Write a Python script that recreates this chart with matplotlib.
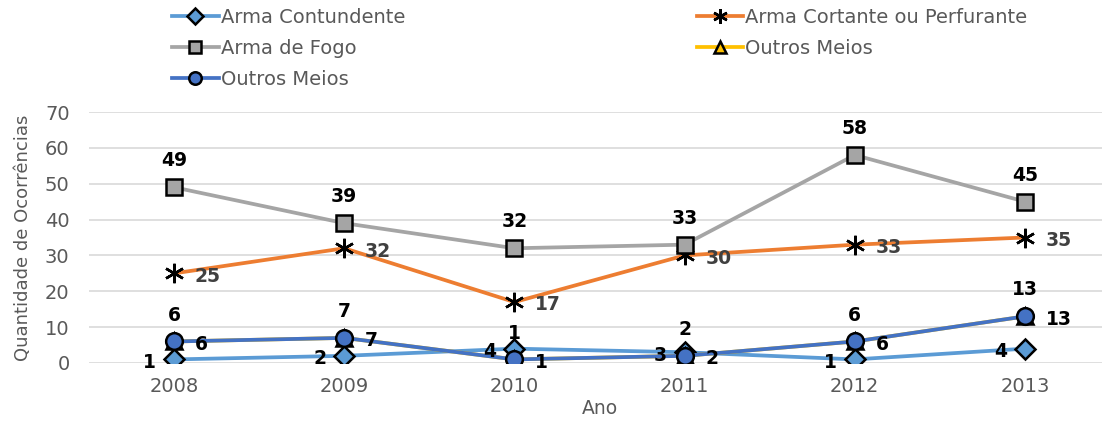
import matplotlib.pyplot as plt
from matplotlib.lines import Line2D

plt.rcParams['font.family'] = ['DejaVu Sans']

# =Data
anos = ['2008', '2009', '2010', '2011', '2012', '2013']
contundente = [1, 2, 4, 3, 1, 4]
cortante = [25, 32, 17, 30, 33, 35]
fogo = [49, 39, 32, 33, 58, 45]
outros_amarelo = [6, 7, 1, 2, 6, 13]
outros_azul = [6, 7, 1, 2, 6, 13]

x = list(range(len(anos)))

fig = plt.figure(figsize=(11.02, 4.25), dpi=100)
ax = fig.add_axes([89 / 1102, 62 / 425, 1021 / 1102, 251 / 425])

# series: (values, label, color, marker, marker size, label position, label color)
series = [
    (contundente, 'Arma Contundente', '#5B9BD5', 'D', 10.5, 'left', 'black'),
    (cortante, 'Arma Cortante ou Perfurante', '#ED7D31', (6, 2, 0), 14, 'right', '#404040'),
    (fogo, 'Arma de Fogo', '#A5A5A5', 's', 12, 'above', 'black'),
    (outros_amarelo, 'Outros Meios', '#FFC000', '^', 12, 'above', 'black'),
    (outros_azul, 'Outros Meios', '#4472C4', 'o', 12, 'right', 'black'),
]

handles = []
for vals, lab, col, mk, ms, pos, tcol in series:
    face = 'black' if mk == (6, 2, 0) else col
    ax.plot(x, vals, color=col, lw=2.7, marker=mk, ms=ms,
            mfc=face, mec='black', mew=1.8, solid_capstyle='round')
    handles.append(Line2D([], [], color=col, lw=2.7, marker=mk, ms=ms * 0.75,
                          mfc=face, mec='black', mew=1.8))
    for xi, v in zip(x, vals):
        if pos == 'left':
            off, ha, va = (-13, -2), 'right', 'center'
        elif pos == 'right':
            off, ha, va = (15, -2), 'left', 'center'
        else:
            off, ha, va = (0, 19), 'center', 'center'
        ax.annotate(str(v), (xi, v), xytext=off, textcoords='offset points',
                    ha=ha, va=va, fontsize=13.5, fontweight='bold', color=tcol)

ax.set_xlim(-0.5, 5.5)
ax.set_ylim(0, 70)
ax.set_yticks(range(0, 71, 10))
ax.set_xticks(x)
ax.set_xticklabels(anos)
ax.grid(axis='y', color='#D9D9D9', lw=1.2)
ax.set_axisbelow(True)
for s in ax.spines.values():
    s.set_visible(False)
ax.tick_params(axis='x', length=0, labelsize=14, colors='#595959', pad=10)
ax.tick_params(axis='y', length=0, labelsize=14, colors='#595959', pad=14)
ax.set_xlabel('Ano', fontsize=13.5, color='#595959', labelpad=2)
ax.set_ylabel('Quantidade de Ocorrências', fontsize=13, color='#595959', labelpad=9)

# legend: column-wise fill -> reorder
order = [0, 2, 4, 1, 3]
fig.legend([handles[i] for i in order], [series[i][1] for i in order],
           loc='upper left', bbox_to_anchor=(172 / 1102, 1 - 8 / 425), ncol=2,
           frameon=False, fontsize=14, labelcolor='#595959', borderpad=0,
           borderaxespad=0, handlelength=2.4, handletextpad=0.1,
           columnspacing=15, labelspacing=0.62)

fig.savefig('out.png', dpi=100)
